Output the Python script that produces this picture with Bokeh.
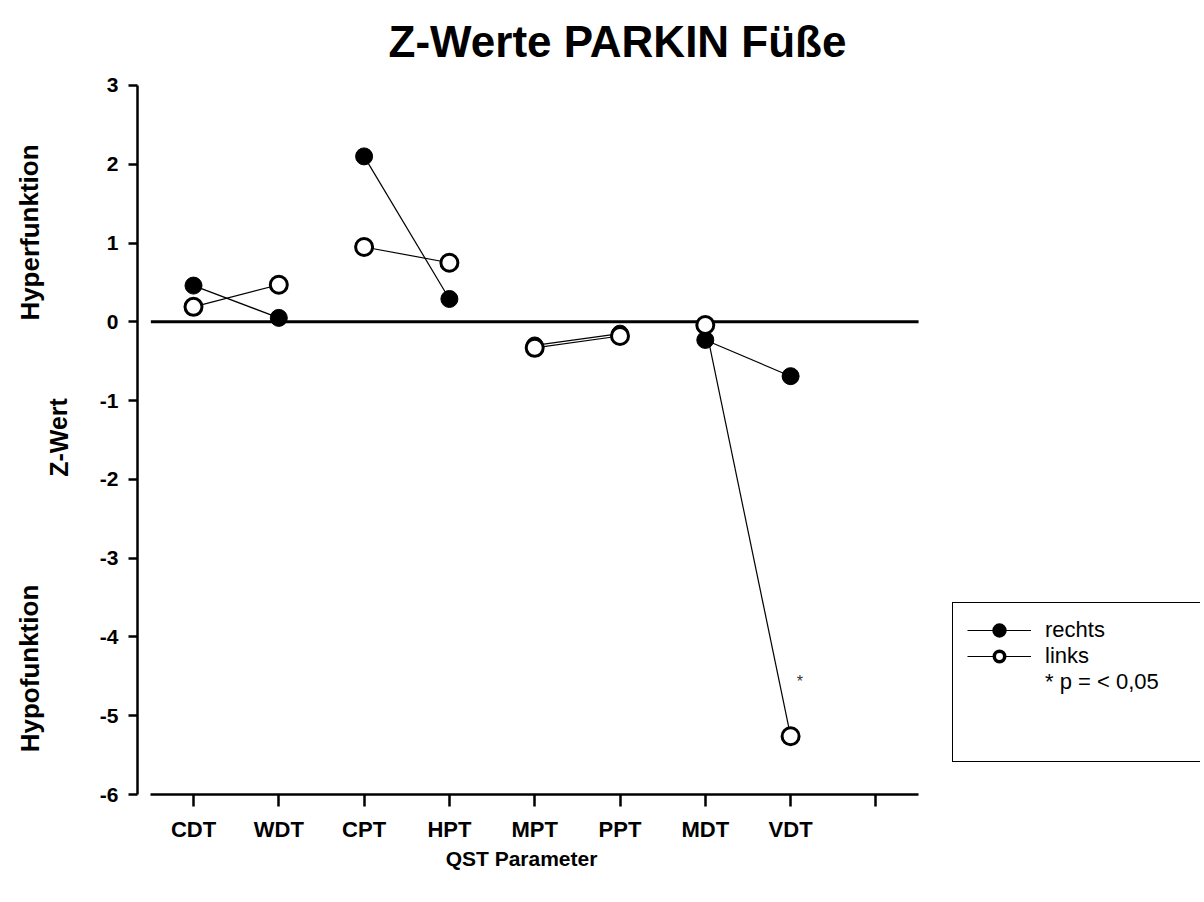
from bokeh.plotting import figure
from bokeh.models import FixedTicker, Label, Legend, LegendItem, Range1d
from bokeh.embed import file_html
from bokeh.resources import INLINE

# ---- data ----
parameters = ["CDT", "WDT", "CPT", "HPT", "MPT", "PPT", "MDT", "VDT"]
rechts = [0.46, 0.05, 2.10, 0.29, -0.30, -0.15, -0.23, -0.69]
links = [0.19, 0.47, 0.95, 0.75, -0.33, -0.18, -0.04, -5.26]
y_ticks = [-6, -5, -4, -3, -2, -1, 0, 1, 2, 3]
n_slots = 9
significant = "VDT"

title_text = "Z-Werte PARKIN Füße"
x_title = "QST Parameter"
y_title = "Z-Wert"
upper_label = "Hyperfunktion"
lower_label = "Hypofunktion"
legend_labels = ["rechts", "links", "* p = < 0,05"]

# ---- layout (pixel geometry of the canvas) ----
FONT = "Liberation Sans"
W, H = 1200, 898
X_FIRST, UNIT_X = 193, 85.3      # pixel of slot 1, pixels per slot
Y_BOTTOM, UNIT_Y = 794, 78.78    # pixel of lowest tick, pixels per unit
Y_AXIS_PX = 137

def dx(px):
    return 1 + (px - X_FIRST) / UNIT_X

def dy(py):
    return y_ticks[0] + (Y_BOTTOM - py) / UNIT_Y

p = figure(width=W, height=H, x_range=Range1d(dx(0), dx(W)), y_range=Range1d(dy(H), dy(0)),
           output_backend="svg", toolbar_location=None, title=None,
           min_border_left=0, min_border_right=0, min_border_top=0, min_border_bottom=0)
p.outline_line_color = None
p.xgrid.visible = False
p.ygrid.visible = False
p.background_fill_color = "white"
p.border_fill_color = "white"

positions = list(range(1, len(parameters) + 1))

# axes (offset, SigmaPlot style)
xa, ya = p.xaxis[0], p.yaxis[0]
xa.ticker = FixedTicker(ticks=list(range(1, n_slots + 1)))
overrides = {i + 1: name for i, name in enumerate(parameters)}
overrides[n_slots] = ""
xa.major_label_overrides = overrides
xa.bounds = (0.5, n_slots + 0.5)
xa.fixed_location = y_ticks[0]
ya.ticker = FixedTicker(ticks=y_ticks)
ya.major_label_overrides = {t: str(t) for t in y_ticks}
ya.bounds = (y_ticks[0], y_ticks[-1])
ya.fixed_location = dx(Y_AXIS_PX)
for ax in (xa, ya):
    ax.axis_line_width = 2.5
    ax.axis_line_color = "black"
    ax.major_tick_line_width = 2.5
    ax.major_tick_line_color = "black"
    ax.major_tick_in = 0
    ax.minor_tick_line_color = None
    ax.major_label_text_font = FONT
    ax.major_label_text_font_style = "bold"
    ax.major_label_text_color = "black"
xa.major_tick_out = 12
xa.major_label_standoff = 10
xa.major_label_text_font_size = "22px"
ya.major_tick_out = 9
ya.major_label_standoff = 10
ya.major_label_text_font_size = "21px"

# zero line
p.segment(x0=[0.5], y0=[0], x1=[n_slots + 0.5], y1=[0], line_color="black", line_width=3)

# paired lines
pair_starts = list(range(0, len(parameters), 2))
xs = [[positions[i], positions[i + 1]] for i in pair_starts]
ys_r = [[rechts[i], rechts[i + 1]] for i in pair_starts]
ys_l = [[links[i], links[i + 1]] for i in pair_starts]
ml_r = p.multi_line(xs=xs, ys=ys_r, line_color="black", line_width=1.2)
ml_l = p.multi_line(xs=xs, ys=ys_l, line_color="black", line_width=1.2)

sc_r = p.scatter(x=positions, y=rechts, size=17, fill_color="black", line_color="black", line_width=1)
sc_l = p.scatter(x=positions, y=links, size=17, fill_color="white", line_color="black", line_width=3)

# legend-only marker looks: one point parked outside the visible range
off_x, off_y = [dx(-500)], [0]
leg_r = p.scatter(x=off_x, y=off_y, size=17, fill_color="black", line_color="black", line_width=4)
leg_l = p.scatter(x=off_x, y=off_y, size=17, fill_color="white", line_color="black", line_width=3.5)
blank = p.scatter(x=[], y=[], size=1, fill_alpha=0, line_alpha=0)

# significance star
sig_i = parameters.index(significant)
p.add_layout(Label(x=positions[sig_i] + 0.11, y=links[sig_i] + 0.69, text="*",
                   text_font=FONT, text_font_size="16px", text_color="#333333",
                   text_align="center", text_baseline="middle"))

# legend
legend = Legend(items=[
    LegendItem(label=legend_labels[0], renderers=[ml_r, leg_r]),
    LegendItem(label=legend_labels[1], renderers=[ml_l, leg_l]),
    LegendItem(label=legend_labels[2], renderers=[blank]),
    LegendItem(label=" ", renderers=[blank]),
    LegendItem(label=" ", renderers=[blank]),
], location=(952, H - 762), orientation="vertical",
    border_line_color="black", border_line_width=1.5, border_line_alpha=1,
    background_fill_color="white", background_fill_alpha=1,
    padding=14, spacing=0, margin=0,
    glyph_width=64, glyph_height=26, label_height=26, label_width=320,
    label_standoff=14, label_text_font=FONT, label_text_font_size="22px",
    label_text_color="black")
p.add_layout(legend)

# free texts, placed in canvas pixels (frame covers the whole canvas)
def add_text(text, px, py, size, angle=0.0, style="bold"):
    p.add_layout(Label(x=px, y=H - py, x_units="screen", y_units="screen", text=text,
                       text_font=FONT, text_font_size=size, text_font_style=style,
                       text_color="black", text_align="center", text_baseline="middle",
                       angle=angle))

add_text(title_text, 617, 41, "44px")
add_text(x_title, 521, 858, "21px")
add_text(upper_label, 29, 232, "26px", angle=1.5708)
add_text(y_title, 58, 437, "25px", angle=1.5708)
add_text(lower_label, 29, 668, "26px", angle=1.5708)

open("out.html", "w").write(file_html(p, INLINE))
